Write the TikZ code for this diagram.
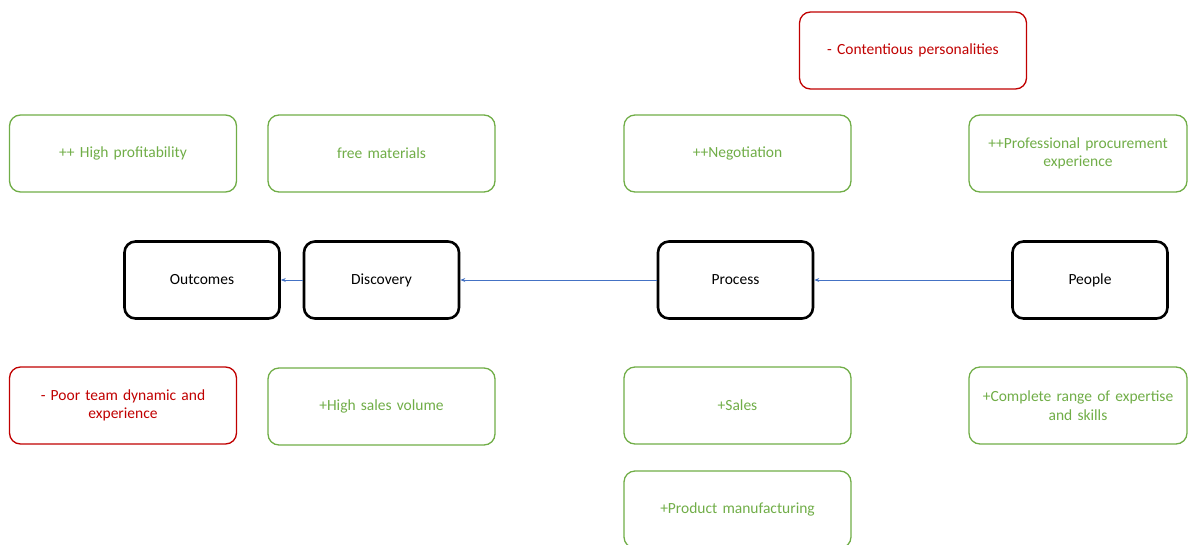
\documentclass[tikz,border=0pt]{standalone}
\usepackage{fontspec}
\setmainfont{Carlito}
\usetikzlibrary{arrows.meta}
\definecolor{boxgreen}{HTML}{70AD47}
\definecolor{boxred}{HTML}{C00000}
\definecolor{linkblue}{HTML}{4472C4}
\begin{document}
\begin{tikzpicture}[x=1pt,y=-1pt,
  stage/.style={draw=black,line width=2.6pt,rounded corners=11pt,minimum width=155pt,minimum height=77pt,font=\fontsize{15.5}{18.5}\selectfont,align=center},
  plus/.style={draw=boxgreen,line width=1.3pt,rounded corners=11pt,minimum width=227pt,minimum height=77pt,text=boxgreen,font=\fontsize{15.5}{18.5}\selectfont,align=center,text width=205pt},
  minus/.style={plus,draw=boxred,text=boxred},
  link/.style={draw=linkblue,line width=0.8pt,-{Stealth[length=5pt,width=4pt]}}]
\useasboundingbox (0,0) rectangle (1188,544);
\begin{scope}
\clip (0,0) rectangle (1188,544);
% stages along the main line
\node[stage] (outcomes) at (202,280) {Outcomes};
\node[stage] (discovery) at (381.5,280) {Discovery};
\node[stage] (process) at (735.5,280) {Process};
\node[stage] (people) at (1090,280) {People};
% factors above the line
\node[minus] (contentious) at (913,50.5) {- Contentious personalities};
\node[plus] (profit) at (123,153.5) {++ High profitability};
\node[plus] (free) at (381.5,153.5) {free materials};
\node[plus] (negotiation) at (737.5,153.5) {++Negotiation};
\node[plus,minimum width=218pt] (procurement) at (1078,153.5) {++Professional procurement\\experience};
% factors below the line
\node[minus] (team) at (123,405.5) {- Poor team dynamic and\\experience};
\node[plus] (volume) at (381.5,406.5) {+High sales volume};
\node[plus] (sales) at (737.5,405.5) {+Sales};
\node[plus] (manufacturing) at (737.5,509.5) {+Product manufacturing};
\node[plus,minimum width=218pt] (expertise) at (1078,405.5) {+Complete range of expertise\\and skills};
% flow between stages
\draw[link] (people) -- (process);
\draw[link] (process) -- (discovery);
\draw[link] (discovery) -- (outcomes);
\end{scope}
\end{tikzpicture}
\end{document}
